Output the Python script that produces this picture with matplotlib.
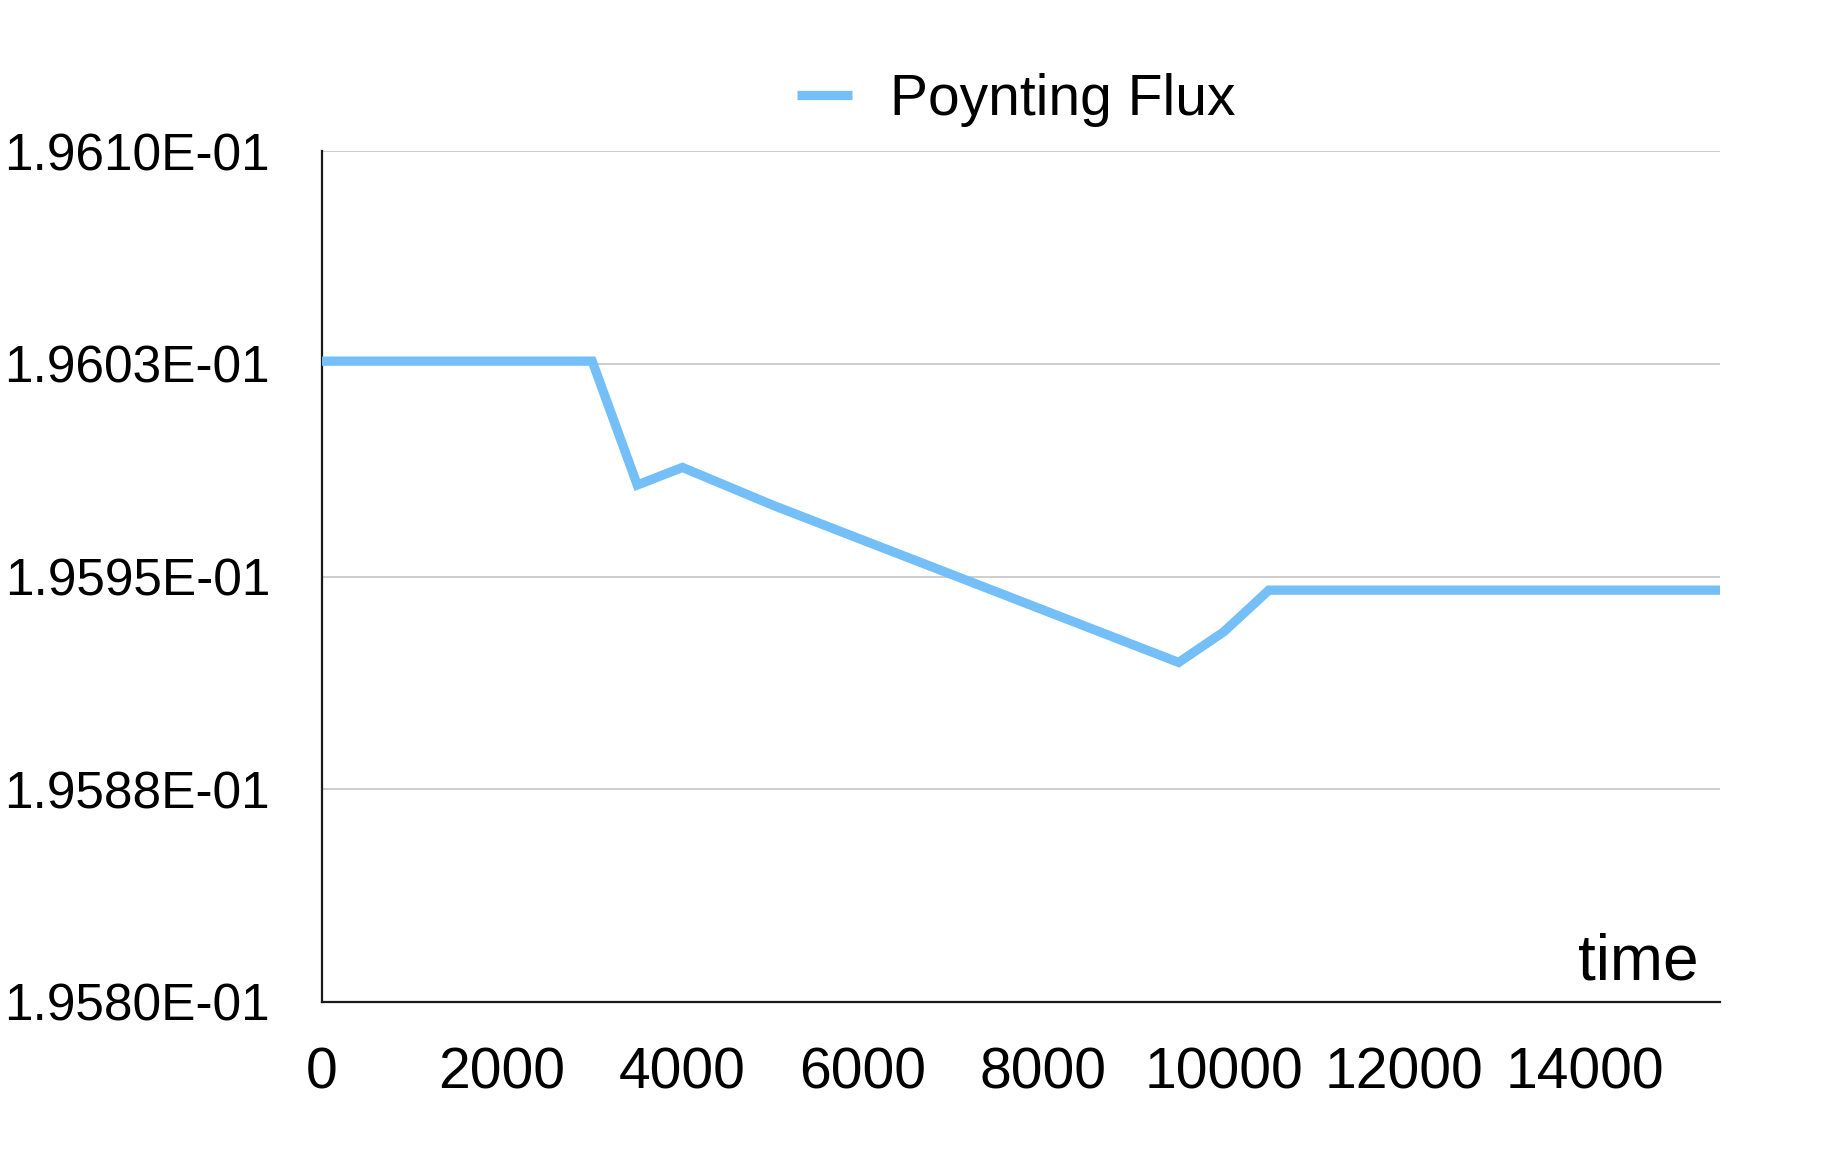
import matplotlib
matplotlib.use("Agg")
import matplotlib.pyplot as plt
from matplotlib.ticker import FixedLocator, FixedFormatter

plt.rcParams['font.family'] = ['Liberation Sans', 'DejaVu Sans']

# Data
time = [0, 3000, 3500, 4000, 5000, 9500, 10000, 10500, 15500]
flux = [0.196026, 0.196026, 0.1959823, 0.1959885, 0.1959752,
        0.1959197, 0.1959305, 0.1959452, 0.1959452]
series_name = "Poynting Flux"
x_ticks = [0, 2000, 4000, 6000, 8000, 10000, 12000, 14000]
y_ticks = [0.19580, 0.195875, 0.19595, 0.196025, 0.19610]
y_tick_labels = ["1.9580E-01", "1.9588E-01", "1.9595E-01", "1.9603E-01", "1.9610E-01"]
x_label = "time"

W, H = 1826, 1158
fig = plt.figure(figsize=(W / 100, H / 100), dpi=100)
left, right, top, bottom = 321.5, 1720, 151.4, 1001.7
ax = fig.add_axes([left / W, 1 - bottom / H, (right - left) / W, (bottom - top) / H])

color = '#75BFF8'
ax.plot(time, flux, color=color, lw=6.7, solid_joinstyle='miter',
        solid_capstyle='butt', label=series_name, zorder=3)

ax.set_xlim(0, 15500)
ax.set_ylim(0.19580, 0.19610)

ax.xaxis.set_major_locator(FixedLocator(x_ticks))
ax.yaxis.set_major_locator(FixedLocator(y_ticks))
ax.yaxis.set_major_formatter(FixedFormatter(y_tick_labels))

ax.tick_params(axis='x', length=0, pad=32, labelsize=41)
ax.tick_params(axis='y', length=0, pad=37, labelsize=37)

ax.grid(axis='y', color='#C0C0C0', lw=1.1, zorder=0)
ax.grid(axis='x', visible=False)
for s in ['top', 'right']:
    ax.spines[s].set_visible(False)
for s in ['left', 'bottom']:
    ax.spines[s].set_color('#1a1a1a')
    ax.spines[s].set_linewidth(1.6)
ax.set_axisbelow(True)

fig.text(1699 / W, 1 - 980 / H, x_label, ha='right', va='baseline', fontsize=46)

leg = fig.legend(loc='center', bbox_to_anchor=(1016 / W, 1 - 100 / H),
                 frameon=False, fontsize=41, handlelength=0.97,
                 handletextpad=0.66)
for line in leg.get_lines():
    line.set_linewidth(6.7)
    line.set_solid_capstyle('butt')

fig.savefig('out.png', dpi=100)
